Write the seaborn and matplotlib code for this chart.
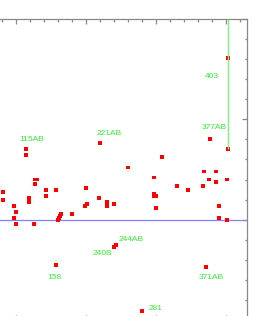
import matplotlib
matplotlib.use("Agg")
import matplotlib.pyplot as plt
from matplotlib.ticker import MultipleLocator
import pandas as pd
import seaborn as sns

sns.set_style("white")
plt.rcParams['font.family'] = ['Liberation Sans', 'DejaVu Sans']

# residue number and value of each point
residues = [115, 115, 128, 131, 128, 82, 82, 143, 143, 158,
            119, 119, 98, 100, 98, 100, 126, 165, 163, 162,
            161, 181, 200, 202, 199, 221, 309, 260, 298, 219,
            297, 300, 298, 231, 230, 240, 301, 377, 403, 403,
            369, 386, 376, 386, 402, 331, 346, 367, 390, 391,
            402, 158, 240, 243, 372, 281]
values = [0.70, 0.64, 0.40, 0.40, 0.36, 0.28, 0.20, 0.30, 0.24, 0.30,
          0.22, 0.18, 0.14, 0.08, 0.02, -0.04, -0.04, 0.06, 0.04, 0.02,
          0.00, 0.06, 0.32, 0.16, 0.14, 0.76, 0.62, 0.52, 0.42, 0.22,
          0.26, 0.24, 0.24, 0.18, 0.14, 0.16, 0.12, 0.80, 0.70, 1.61,
          0.48, 0.48, 0.40, 0.38, 0.40, 0.34, 0.30, 0.34, 0.14, 0.02,
          0.00, -0.45, -0.27, -0.25, -0.47, -0.91]

# labels for the outliers
label_text = ["115AB", "221AB", "377AB", "403", "158", "240B", "244AB", "371AB", "281"]
label_x = [123, 233, 383, 380, 156, 224, 265, 380, 300]
label_y = [0.80, 0.86, 0.92, 1.43, -0.58, -0.34, -0.20, -0.58, -0.89]

# the 403 marker line
line_res = 403
line_top = 2.0
line_bottom = 0.70

df = pd.DataFrame({"residue": residues, "value": values})

W, H = 266, 316
fig = plt.figure(figsize=(W / 100, H / 100), dpi=100)
ax = fig.add_axes([-10 / W, -4 / H, 257 / W, 301 / H])

sns.scatterplot(data=df, x="residue", y="value", ax=ax, marker="s",
                s=8, color="#ff0000", edgecolor="none", linewidth=0, zorder=3)

ax.axhline(0, color="#8080ff", lw=0.9, zorder=2)
ax.vlines(line_res, line_bottom, line_top, color="#80ee80", lw=1.0, zorder=4)

for t, x, y in zip(label_text, label_x, label_y):
    ax.text(x, y, t, color="#33ee33", fontsize=6, ha="center", va="center")

ax.set_xlim(63.3, 430.4)
ax.set_ylim(-1.0, 2.0)
ax.set_xlabel("")
ax.set_ylabel("")

for side in ["top", "right", "bottom"]:
    ax.spines[side].set_color("#888888")
    ax.spines[side].set_linewidth(0.9)
ax.spines["left"].set_visible(False)

ax.xaxis.set_major_locator(MultipleLocator(100))
ax.xaxis.set_minor_locator(MultipleLocator(20))
ax.yaxis.set_major_locator(MultipleLocator(1))
ax.yaxis.set_minor_locator(MultipleLocator(0.2))
ax.tick_params(which="both", direction="in", colors="#888888",
               top=True, bottom=True, right=True, left=False,
               labeltop=False, labelbottom=False, labelleft=False, labelright=False)
ax.tick_params(which="major", length=3.6, width=0.9)
ax.tick_params(which="minor", length=1.8, width=0.9)

fig.savefig("out.png", dpi=100)
